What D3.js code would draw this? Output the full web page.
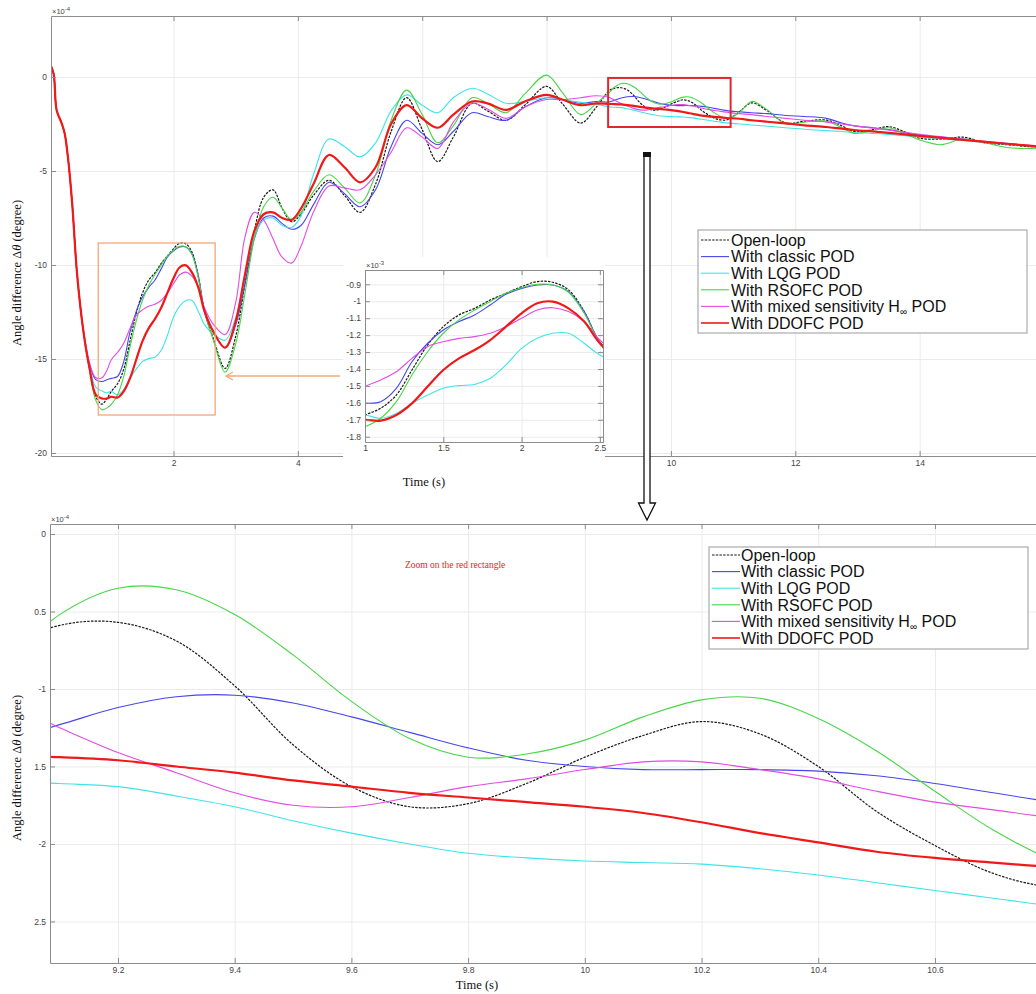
<!DOCTYPE html>
<html><head><meta charset="utf-8">
<script src="https://cdn.jsdelivr.net/npm/d3@7"></script>
<style>body{margin:0;background:#fff}svg{display:block}</style>
</head><body>
<svg id="c" width="1036" height="994"></svg>
<script>
// ---------------- DATA (angle difference in units of 1e-4 degree) ----------------
const time = [0,0.07,0.12,0.2,0.25,0.3,0.37,0.45,0.55,0.65,0.75,0.85,0.93,
1.0,1.1,1.2,1.3,1.4,1.5,1.6,1.7,1.8,1.9,2.0,2.1,2.2,2.3,2.4,2.5,
2.65,2.83,3.0,3.15,3.3,3.45,3.6,3.75,3.9,4.05,4.25,4.5,4.75,5.0,5.25,5.5,5.75,6.0,6.25,6.5,6.8,7.05,7.35,7.65,8.0,8.25,8.55,8.8,
9.0,9.1,9.2,9.3,9.4,9.5,9.6,9.7,9.8,9.9,10.0,10.1,10.2,10.3,10.4,10.5,10.6,10.7,10.8,10.9,
11.1,11.3,11.55,11.85,12.15,12.5,12.75,12.95,13.25,13.5,13.75,14.0,14.35,14.7,15.05,15.4,15.75,16.0];

const openLoop = [0.8,0.2,-1.75,-2.45,-3.0,-4.2,-6.7,-10.5,-13.5,-15.5,-17.0,-17.4,-17.1,
-16.72,-16.32,-15.54,-14.06,-12.58,-11.5,-10.81,-10.42,-9.93,-9.53,-9.14,-8.84,-8.88,-9.33,-10.61,-12.48,
-14.0,-15.5,-13.8,-11.0,-8.2,-6.4,-6.0,-7.0,-7.7,-7.3,-6.3,-5.5,-6.3,-7.2,-5.7,-2.9,-1.1,-2.8,-4.5,-3.2,-1.4,-1.8,-2.3,-1.5,-0.5,-1.4,-2.45,-1.6,
-0.75,-0.59,-0.57,-0.69,-0.98,-1.36,-1.63,-1.76,-1.74,-1.61,-1.44,-1.30,-1.21,-1.29,-1.50,-1.79,-2.01,-2.19,-2.28,-2.28,
-1.85,-1.38,-1.8,-2.45,-2.35,-2.29,-2.6,-2.9,-2.8,-2.64,-2.9,-3.25,-3.3,-3.2,-3.5,-3.6,-3.7,-3.75];

const classicPOD = [0.8,0.2,-1.75,-2.45,-3.0,-4.2,-6.7,-10.5,-13.5,-15.3,-16.1,-16.2,-16.1,
-16.03,-15.93,-15.14,-13.57,-12.48,-11.70,-11.2,-10.81,-10.22,-9.59,-9.24,-9.04,-9.04,-9.43,-10.61,-12.39,
-13.6,-14.4,-13.2,-11.0,-8.6,-7.5,-7.4,-7.8,-8.1,-7.9,-6.8,-5.6,-6.2,-6.9,-6.0,-3.7,-2.3,-3.0,-3.6,-2.9,-1.9,-2.1,-2.3,-1.6,-1.1,-1.2,-1.4,-1.3,
-1.33,-1.23,-1.12,-1.05,-1.04,-1.09,-1.18,-1.28,-1.38,-1.46,-1.50,-1.52,-1.52,-1.52,-1.53,-1.56,-1.61,-1.67,-1.73,-1.79,
-1.85,-1.9,-1.95,-2.05,-2.1,-2.2,-2.45,-2.6,-2.7,-2.8,-2.95,-3.1,-3.2,-3.3,-3.45,-3.55,-3.65,-3.7];

const lqgPOD = [0.8,0.2,-1.75,-2.45,-3.0,-4.2,-6.7,-10.5,-13.5,-15.4,-16.5,-16.7,-16.8,
-16.72,-16.91,-16.62,-16.03,-15.54,-15.14,-14.98,-14.91,-14.55,-13.76,-12.78,-12.19,-11.89,-11.89,-12.48,-13.17,
-13.7,-14.0,-12.8,-10.5,-8.5,-7.6,-7.5,-7.9,-8.0,-7.4,-5.2,-3.3,-3.7,-4.25,-3.5,-1.8,-0.95,-1.5,-1.9,-1.1,-0.6,-0.9,-1.4,-1.3,-1.1,-1.2,-1.35,-1.45,
-1.59,-1.61,-1.63,-1.69,-1.76,-1.85,-1.93,-2.0,-2.06,-2.09,-2.11,-2.12,-2.13,-2.16,-2.20,-2.25,-2.30,-2.35,-2.40,-2.44,
-2.5,-2.55,-2.62,-2.7,-2.78,-2.85,-2.9,-2.95,-3.0,-3.05,-3.12,-3.2,-3.28,-3.38,-3.48,-3.58,-3.66,-3.7];

const rsofcPOD = [0.8,0.2,-1.75,-2.45,-3.0,-4.2,-6.7,-10.5,-13.5,-15.6,-17.2,-17.7,-17.6,
-17.41,-16.91,-15.93,-14.35,-12.98,-11.89,-11.1,-10.52,-10.02,-9.53,-9.2,-9.0,-9.04,-9.47,-10.71,-12.48,
-14.1,-15.7,-14.2,-11.5,-8.6,-6.9,-6.4,-7.0,-7.6,-7.2,-6.1,-5.2,-5.9,-6.7,-5.2,-2.3,-0.7,-2.0,-3.5,-2.6,-1.1,-1.4,-1.9,-0.9,0.1,-0.8,-2.0,-1.4,
-0.85,-0.52,-0.35,-0.36,-0.52,-0.78,-1.08,-1.32,-1.44,-1.42,-1.33,-1.18,-1.07,-1.06,-1.19,-1.40,-1.66,-1.91,-2.10,-2.2,
-1.9,-1.3,-1.75,-2.5,-2.4,-2.35,-2.7,-3.0,-2.85,-2.7,-3.0,-3.35,-3.6,-3.3,-3.5,-3.75,-3.8,-3.75];

const hinfPOD = [0.8,0.2,-1.75,-2.45,-3.0,-4.2,-6.7,-10.5,-13.4,-15.2,-16.0,-16.0,-15.6,
-15.04,-14.65,-14.16,-13.37,-12.68,-12.39,-12.19,-12.09,-11.89,-11.5,-11.0,-10.52,-10.38,-10.61,-11.2,-12.29,
-13.2,-13.7,-12.0,-8.5,-7.2,-7.6,-8.6,-9.6,-9.9,-9.0,-7.2,-5.8,-5.9,-6.0,-5.2,-4.0,-2.7,-3.2,-3.8,-2.4,-1.4,-1.7,-2.2,-1.6,-1.2,-1.2,-1.1,-1.0,
-1.08,-1.25,-1.41,-1.54,-1.67,-1.75,-1.76,-1.70,-1.63,-1.58,-1.52,-1.47,-1.47,-1.52,-1.58,-1.66,-1.73,-1.78,-1.83,-1.87,
-1.95,-2.0,-2.1,-2.2,-2.3,-2.4,-2.5,-2.6,-2.72,-2.82,-2.93,-3.05,-3.18,-3.3,-3.42,-3.53,-3.63,-3.7];

const ddofcPOD = [0.8,0.2,-1.75,-2.45,-3.0,-4.2,-6.7,-10.5,-13.5,-15.5,-16.9,-17.1,-17.1,
-17.01,-17.05,-16.72,-16.03,-15.04,-14.06,-13.37,-12.88,-12.29,-11.5,-10.71,-10.12,-10.02,-10.42,-11.2,-12.48,
-13.6,-14.4,-13.0,-10.5,-8.2,-7.3,-7.2,-7.5,-7.6,-7.0,-5.7,-4.15,-4.8,-5.6,-4.8,-2.5,-1.5,-2.2,-2.7,-2.0,-1.3,-1.4,-1.75,-1.3,-0.95,-1.2,-1.5,-1.4,
-1.43,-1.44,-1.46,-1.5,-1.54,-1.59,-1.63,-1.67,-1.70,-1.73,-1.76,-1.80,-1.86,-1.93,-1.99,-2.05,-2.09,-2.12,-2.15,-2.18,
-2.22,-2.3,-2.38,-2.47,-2.57,-2.66,-2.75,-2.82,-2.9,-2.97,-3.05,-3.13,-3.24,-3.35,-3.45,-3.55,-3.65,-3.72];

const seriesNames = ["Open-loop","With classic POD","With LQG POD","With RSOFC POD","With mixed sensitivity H\u221E POD","With DDOFC POD"];

const mainXTicks = [2,4,6,8,10,12,14];
const mainYTicks = [0,-5,-10,-15,-20];
const insetXTicks = [1,1.5,2,2.5];
const insetYTicks = [-9,-10,-11,-12,-13,-14,-15,-16,-17,-18];
const zoomXTicks = [9.2,9.4,9.6,9.8,10,10.2,10.4,10.6];
const zoomYTicks = [0,-0.5,-1,-1.5,-2,-2.5];
const zoomYTickLabels = ["0","0.5","-1","1.5","-2","2.5"];

// ---------------- STYLES ----------------
const series = [openLoop, classicPOD, lqgPOD, rsofcPOD, hinfPOD, ddofcPOD];
const styles = [
  {color:"#1a1a1a", width:1.2, dash:"2.5,1.2"},
  {color:"#4646ee", width:1.1},
  {color:"#3ee4ea", width:1.1},
  {color:"#46d646", width:1.1},
  {color:"#e24ce2", width:1.1},
  {color:"#f01818", width:2.2}
];
const SANS = "'Liberation Sans', Arial, Helvetica, sans-serif";
const SERIF = "'Liberation Serif', 'Times New Roman', serif";
const AX = "#8c8c8c", GRID = "#ebebeb", TXT = "#444";

const svg = d3.select("#c");
const defs = svg.append("defs");
svg.append("rect").attr("width",1036).attr("height",994).attr("fill","#fff");

function styleAxis(s){
  s.select(".domain").attr("stroke",AX).attr("stroke-width",1);
  s.selectAll(".tick line").attr("stroke",AX).attr("stroke-width",1);
  s.selectAll(".tick text").attr("fill",TXT).attr("font-size",8.5).attr("font-family",SANS);
}
function gridStyle(s){ s.select(".domain").remove(); s.selectAll(".tick line").attr("stroke",GRID).attr("stroke-width",1); }

function panel(cfg){
  const {id, x, y} = cfg;
  const [L,R] = x.range(), [B,T] = y.range();
  defs.append("clipPath").attr("id",id).append("rect").attr("x",L).attr("y",T).attr("width",R-L).attr("height",B-T);
  const g = svg.append("g");
  if (cfg.bg) g.append("rect").attr("x",cfg.bg[0]).attr("y",cfg.bg[1]).attr("width",cfg.bg[2]).attr("height",cfg.bg[3]).attr("fill","#fff");
  g.append("g").attr("transform",`translate(0,${B})`)
    .call(d3.axisBottom(x).tickValues(cfg.xTicks).tickSize(-(B-T)).tickFormat("")).call(gridStyle);
  g.append("g").attr("transform",`translate(${L},0)`)
    .call(d3.axisLeft(y).tickValues(cfg.yTicks).tickSize(-(R-L)).tickFormat("")).call(gridStyle);
  const line = d3.line().x((d,i)=>x(time[i])).y(d=>y(d)).curve(d3.curveCatmullRom.alpha(0.5));
  const lg = g.append("g").attr("clip-path",`url(#${id})`);
  series.forEach((s,k)=>{
    lg.append("path").attr("d",line(s)).attr("fill","none")
      .attr("stroke",styles[k].color).attr("stroke-width",styles[k].width)
      .attr("stroke-dasharray",styles[k].dash||null).attr("stroke-linejoin","round");
  });
  g.append("g").attr("transform",`translate(0,${B})`)
    .call(d3.axisBottom(x).tickValues(cfg.xTicks).tickSize(-5).tickSizeOuter(0).tickPadding(cfg.padX).tickFormat(cfg.xFmt)).call(styleAxis);
  g.append("g").attr("transform",`translate(0,${T})`)
    .call(d3.axisTop(x).tickValues(cfg.xTicks).tickSize(-5).tickSizeOuter(0).tickFormat("")).call(styleAxis);
  g.append("g").attr("transform",`translate(${L},0)`)
    .call(d3.axisLeft(y).tickValues(cfg.yTicks).tickSize(-5).tickSizeOuter(0).tickPadding(cfg.padY).tickFormat(cfg.yFmt)).call(styleAxis);
  g.append("g").attr("transform",`translate(${R},0)`)
    .call(d3.axisRight(y).tickValues(cfg.yTicks).tickSize(-5).tickSizeOuter(0).tickFormat("")).call(styleAxis);
  const e = g.append("text").attr("x",L+1).attr("y",T-2).attr("font-size",7.5).attr("font-family",SANS).attr("fill",TXT);
  e.append("tspan").text("\u00D710");
  e.append("tspan").attr("dy",-3).attr("font-size",6).text(cfg.exp);
  return g;
}

function yLabel(cx, cy){
  const t = svg.append("text").attr("transform",`translate(${cx},${cy}) rotate(-90)`)
    .attr("text-anchor","middle").attr("font-family",SERIF).attr("font-size",12.5).attr("fill","#111");
  t.append("tspan").text("Angle difference \u0394");
  t.append("tspan").attr("font-style","italic").text("\u03B8");
  t.append("tspan").text(" (degree)");
}
function xLabel(cx, by){
  svg.append("text").attr("x",cx).attr("y",by).attr("text-anchor","middle")
    .attr("font-family",SERIF).attr("font-size",12.5).attr("fill","#111").text("Time (s)");
}
function legend(bx, by, bw, bh, row0, rowH, lx0, lx1, tx){
  const g = svg.append("g");
  g.append("rect").attr("x",bx).attr("y",by).attr("width",bw).attr("height",bh).attr("fill","#fff").attr("stroke","#9a9a9a").attr("stroke-width",1);
  seriesNames.forEach((name,k)=>{
    const cy = row0 + k*rowH;
    g.append("line").attr("x1",lx0).attr("x2",lx1).attr("y1",cy).attr("y2",cy)
      .attr("stroke",styles[k].color).attr("stroke-width",Math.min(styles[k].width,1.6)).attr("stroke-dasharray",styles[k].dash||null);
    const t = g.append("text").attr("x",tx).attr("y",cy).attr("dy","0.36em").attr("font-family",SANS).attr("font-size",16).attr("fill","#111");
    if (name.includes("\u221E")){
      const [a,b] = name.split("\u221E");
      t.append("tspan").text(a);
      t.append("tspan").attr("font-size",10).attr("dy",3).text("\u221E");
      t.append("tspan").attr("dy",-3).text(b);
    } else t.text(name);
  });
}

// ---------------- MAIN PANEL ----------------
const xMain = d3.scaleLinear().domain([0.03,16]).range([51,1044]);
const yMain = d3.scaleLinear().domain([-20.16,3.245]).range([456,16]);
panel({id:"cMain", x:xMain, y:yMain, xTicks:mainXTicks, yTicks:mainYTicks, padX:4, padY:4,
  xFmt:d=>String(d), yFmt:d=>String(d), exp:"-4"});
yLabel(21, 273);

svg.append("rect").attr("x",xMain(0.79)).attr("y",yMain(-8.83))
  .attr("width",xMain(2.67)-xMain(0.79)).attr("height",yMain(-17.98)-yMain(-8.83))
  .attr("fill","none").attr("stroke","#f2a878").attr("stroke-width",1.3);
svg.append("rect").attr("x",xMain(8.99)).attr("y",yMain(-0.05))
  .attr("width",xMain(10.96)-xMain(8.99)).attr("height",yMain(-2.66)-yMain(-0.05))
  .attr("fill","none").attr("stroke","#e3262e").attr("stroke-width",2);

// ---------------- INSET ----------------
const xIn = d3.scaleLinear().domain([1,2.52]).range([365,603]);
const yIn = d3.scaleLinear().domain([-18.31,-8.155]).range([442,270]);
panel({id:"cInset", x:xIn, y:yIn, xTicks:insetXTicks, yTicks:insetYTicks, padX:3, padY:4,
  bg:[343,257,262,240], xFmt:d=>String(d), yFmt:d=>String(+(d/10).toFixed(1)), exp:"-3"});
xLabel(424, 486);

svg.append("path").attr("d","M340,376 L226,376 M233,372 L226,376 L233,380")
  .attr("fill","none").attr("stroke","#f2a878").attr("stroke-width",1.3);

legend(698, 230, 329, 103, 240, 16.6, 701, 729, 731);

svg.append("path").attr("d","M644,156 L644,503 L638.5,503 L647,520 L655.5,503 L650,503 L650,156 Z")
  .attr("fill","#fff").attr("stroke","#111").attr("stroke-width",1.3);
svg.append("rect").attr("x",643).attr("y",152).attr("width",8).attr("height",5).attr("fill","#111");

// ---------------- BOTTOM (ZOOM) PANEL ----------------
const xZ = d3.scaleLinear().domain([9.0835,10.9]).range([50,1110]);
const yZ = d3.scaleLinear().domain([-2.768,0.0645]).range([963,524]);
panel({id:"cZoom", x:xZ, y:yZ, xTicks:zoomXTicks, yTicks:zoomYTicks, padX:4, padY:4,
  xFmt:d=>String(d), yFmt:(d,i)=>zoomYTickLabels[i], exp:"-4"});
yLabel(21, 768);
xLabel(477, 989);
svg.append("text").attr("x",405).attr("y",568).attr("font-family",SERIF).attr("font-size",9.5)
  .attr("fill","#ee2222").text("Zoom on the red rectangle");
legend(709, 547, 319, 102, 555, 16.6, 712, 740, 741);
</script>
</body></html>
